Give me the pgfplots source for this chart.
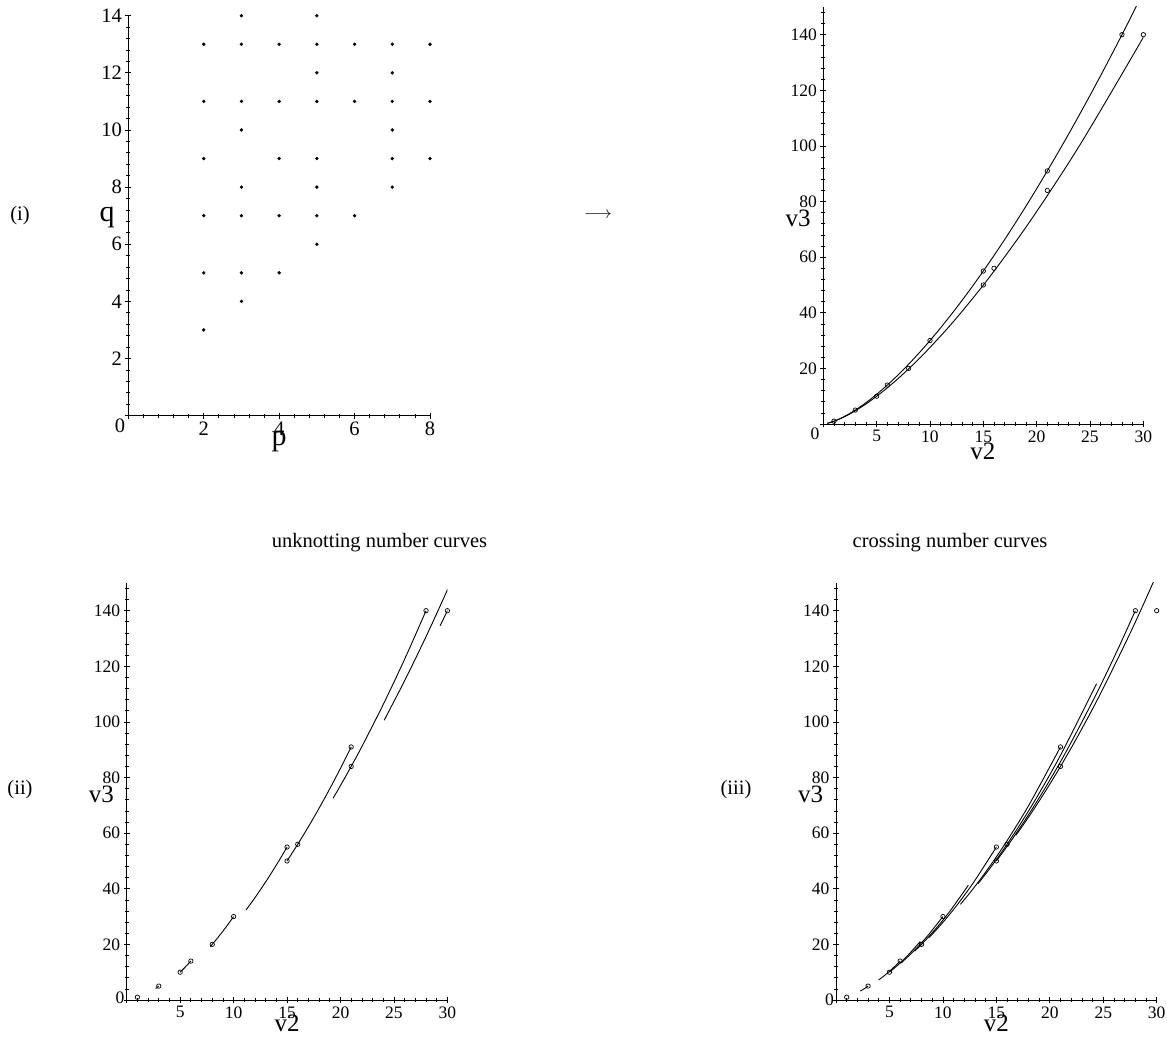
\documentclass[border=0pt]{standalone}
\usepackage{fontspec}
\setmainfont{Liberation Serif}
\usepackage{pgfplots}
\pgfplotsset{compat=1.18}
\newcommand{\fs}[1]{\fontsize{#1}{#1}\selectfont}
\pgfplotsset{
 maple/.style={
  scale only axis,
  axis lines=left,
  axis line style={-, line width=0.9pt},
  tick align=center,
  major tick length=6pt,
  minor tick length=4pt,
  every tick/.style={line width=0.8pt, black},
  every minor tick/.style={line width=0.7pt, black},
  tick label style={font=\fs{17.5}},
  /pgf/number format/assume math mode=true,
  anchor=south west,
 },
 vv/.style={maple, width=320.7pt, height=417.1pt,
  xmin=0, xmax=30, ymin=0, ymax=150,
  xtick={0,5,...,30}, xticklabels={,5,10,15,20,25,30},
  ytick={0,20,...,140}, yticklabels={,20,40,60,80,100,120,140},
  minor xtick={1,...,29}, minor ytick={4,8,...,148}},
 cv/.style={black, line width=0.9pt, smooth, no marks},
 pts/.style={only marks, mark=o, mark size=2.2pt, mark options={line width=0.7pt, black}},
}
\begin{document}
\begin{tikzpicture}[x=1pt,y=1pt]
\useasboundingbox (0pt,0pt) rectangle (1167pt,1040pt);

% ---------- (i) ----------
\begin{axis}[maple, at={(128.3pt,624.3pt)}, width=301.7pt, height=400pt,
  xmin=0, xmax=8, ymin=0, ymax=14,
  xtick={0,2,...,8}, xticklabels={,2,4,6,8},
  ytick={0,2,...,14}, yticklabels={,2,4,6,8,10,12,14},
  minor xtick={0.4,0.8,...,7.7}, minor ytick={0.4,0.8,...,13.7},
  tick label style={font=\fs{20.5}}]
\addplot[only marks, mark=*, mark size=1.5pt, black] coordinates {
(2,3)(2,5)(2,7)(2,9)(2,11)(2,13)
(3,4)(3,5)(3,7)(3,8)(3,10)(3,11)(3,13)(3,14)
(4,5)(4,7)(4,9)(4,11)(4,13)
(5,6)(5,7)(5,8)(5,9)(5,11)(5,12)(5,13)(5,14)
(6,7)(6,11)(6,13)
(7,8)(7,9)(7,10)(7,11)(7,12)(7,13)
(8,9)(8,11)(8,13)};
\end{axis}

% ---------- top right ----------
\begin{axis}[vv, at={(823.3pt,616pt)}, width=320pt]
\addplot[cv] coordinates {(0.375,0.25)(0.65625,0.5469)(1,1)(1.40625,1.6406)(1.875,2.5)(2.40625,3.6094)(3,5)(3.65625,6.7031)(4.375,8.75)(5.15625,11.1719)(6,14)(6.90625,17.2656)(7.875,21)(8.90625,25.2344)(10,30)(11.15625,35.3281)(12.375,41.25)(13.65625,47.7969)(15,55)(16.40625,62.8906)(17.875,71.5)(19.40625,80.8594)(21,91)(22.65625,101.9531)(24.375,113.75)(26.15625,126.4219)(28,140)(29.90625,154.5156)};
\addplot[cv] coordinates {(0.375,0.25)(0.6877,0.5802)(1.1484,1.1963)(1.7944,2.2617)(2.6667,4)(3.81,6.7073)(5.2734,10.7666)(7.1095,16.6629)(9.375,25)(12.1304,36.5178)(15.4401,52.1103)(19.3725,72.85)(24,100)(29.3986,135.0498)(30.5778,143.155)};
\addplot[pts] coordinates {(1,1)(3,5)(6,14)(10,30)(15,55)(21,91)(28,140)(5,10)(8,20)(16,56)(21,84)(15,50)(30,140)};
\end{axis}

% ---------- (ii) ----------
\begin{axis}[vv, at={(126.7pt,40pt)}]
\addplot[cv] coordinates {(2.7083,4.1188)(2.85,4.5363)(3,5)};
\addplot[cv] coordinates {(5,10)(5.5,11.9167)(6,14)};
\addplot[cv] coordinates {(7.83,19.242)(8.5,22.3125)(9.25,26.0156)(10,30)};
\addplot[cv] coordinates {(11.169,32.395)(12,36.8)(13,42.467)(14,48.533)(15,55)};
\addplot[cv] coordinates {(15,50)(16,56)(17,62.333)(18,69)(19,76)(20,83.333)(21,91)};
\addplot[cv] coordinates {(19.308,72.565)(20,77.143)(21,84)(22,91.143)(24,106.286)(26,122.571)(28,140)};
\addplot[cv] coordinates {(24.083,100.597)(26,114.833)(28,130.667)(30,147.5)(32,165.33)};
\addplot[cv] coordinates {(29.316,134.58)(30,140)(31,148.11)};
\addplot[pts] coordinates {(1,1)(3,5)(6,14)(10,30)(15,55)(21,91)(28,140)(5,10)(8,20)(16,56)(21,84)(15,50)(30,140)};
\end{axis}

% ---------- (iii) ----------
\begin{axis}[vv, at={(836pt,40pt)}]
\addplot[cv] coordinates {(3,5)(2.7024,4.2102)(2.4655,3.6351)(2.2706,3.1976)};
\addplot[cv] coordinates {(6,14)(5.2845,11.303)(4.76,9.52)(4.3538,8.2541)(3.9833,7.189)};
\addplot[cv] coordinates {(7.875,21)(6.7641,16.234)(6.0035,13.341)(5.4408,11.4)(5,10)};
\addplot[cv] coordinates {(10,30)(8.6057,23.235)(7.6563,19.141)(6.9587,16.403)(6.1217,13.43)};
\addplot[cv] coordinates {(12.375,41.25)(10.664,31.992)(9.5035,26.399)(8.6551,22.668)(8,20)(7.3472,17.531)};
\addplot[cv] coordinates {(15,55)(12.939,42.699)(11.545,35.276)(10.53,30.337)(9.75,26.8125)(9.1247,24.164)(8.6754,22.36)};
\addplot[cv] coordinates {(21,91)(18.139,70.742)(16.212,58.543)(14.816,50.446)(13.75,44.6875)(12.903,40.382)(12.206,37.025)(11.637,34.41)};
\addplot[cv] coordinates {(24.375,113.75)(21.064,88.469)(18.837,73.255)(17.227,63.165)(16,56)(15.027,50.647)(14.231,46.488)(13.268,41.735)};
\addplot[cv] coordinates {(28,140)(26.278,125.42)(24.206,108.93)(21.656,90.234)(19.816,77.847)(18.417,69.063)(17.31,62.509)(16.406,57.422)(15.649,53.349)(15,50)};
\addplot[cv] coordinates {(31.875,170)(29.918,152.31)(27.564,132.31)(24.671,109.65)(22.584,94.637)(21,84)(19.75,76.073)(18.731,69.929)(17.88,65.018)(17.153,60.988)(16.831,59.254)};
\addplot[pts] coordinates {(1,1)(3,5)(6,14)(10,30)(15,55)(21,91)(28,140)(5,10)(8,20)(16,56)(21,84)(15,50)(30,140)};
\end{axis}

% ---------- labels ----------
\node[font=\fs{20.5}] at (20pt,824pt) {(i)};
\node[anchor=base, font=\fs{30}] at (107pt,818.3pt) {q};
\node[anchor=base, font=\fs{30}] at (279pt,594.3pt) {p};
\node[font=\fs{20.5}] at (120pt,614.5pt) {0};
\node[font=\fs{18}] at (598pt,825pt) {$\longrightarrow$};
\node[anchor=base, font=\fs{25}] at (982.8pt,580pt) {v2};
\node[anchor=base, font=\fs{25}] at (798pt,813.3pt) {v3};
\node[font=\fs{17.5}] at (815pt,606.5pt) {0};

\node[font=\fs{20.5}] at (379.5pt,497pt) {unknotting number curves};
\node[font=\fs{20.5}] at (950pt,497pt) {crossing number curves};

\node[font=\fs{20.5}] at (20pt,250pt) {(ii)};
\node[anchor=base, font=\fs{25}] at (101.4pt,237.3pt) {v3};
\node[anchor=base, font=\fs{25}] at (287pt,8pt) {v2};
\node[font=\fs{17.5}] at (120pt,42pt) {0};

\node[font=\fs{20.5}] at (736pt,250pt) {(iii)};
\node[anchor=base, font=\fs{25}] at (810.7pt,237.3pt) {v3};
\node[anchor=base, font=\fs{25}] at (996.4pt,8pt) {v2};
\node[font=\fs{17.5}] at (829.5pt,40pt) {0};
\end{tikzpicture}
\end{document}
